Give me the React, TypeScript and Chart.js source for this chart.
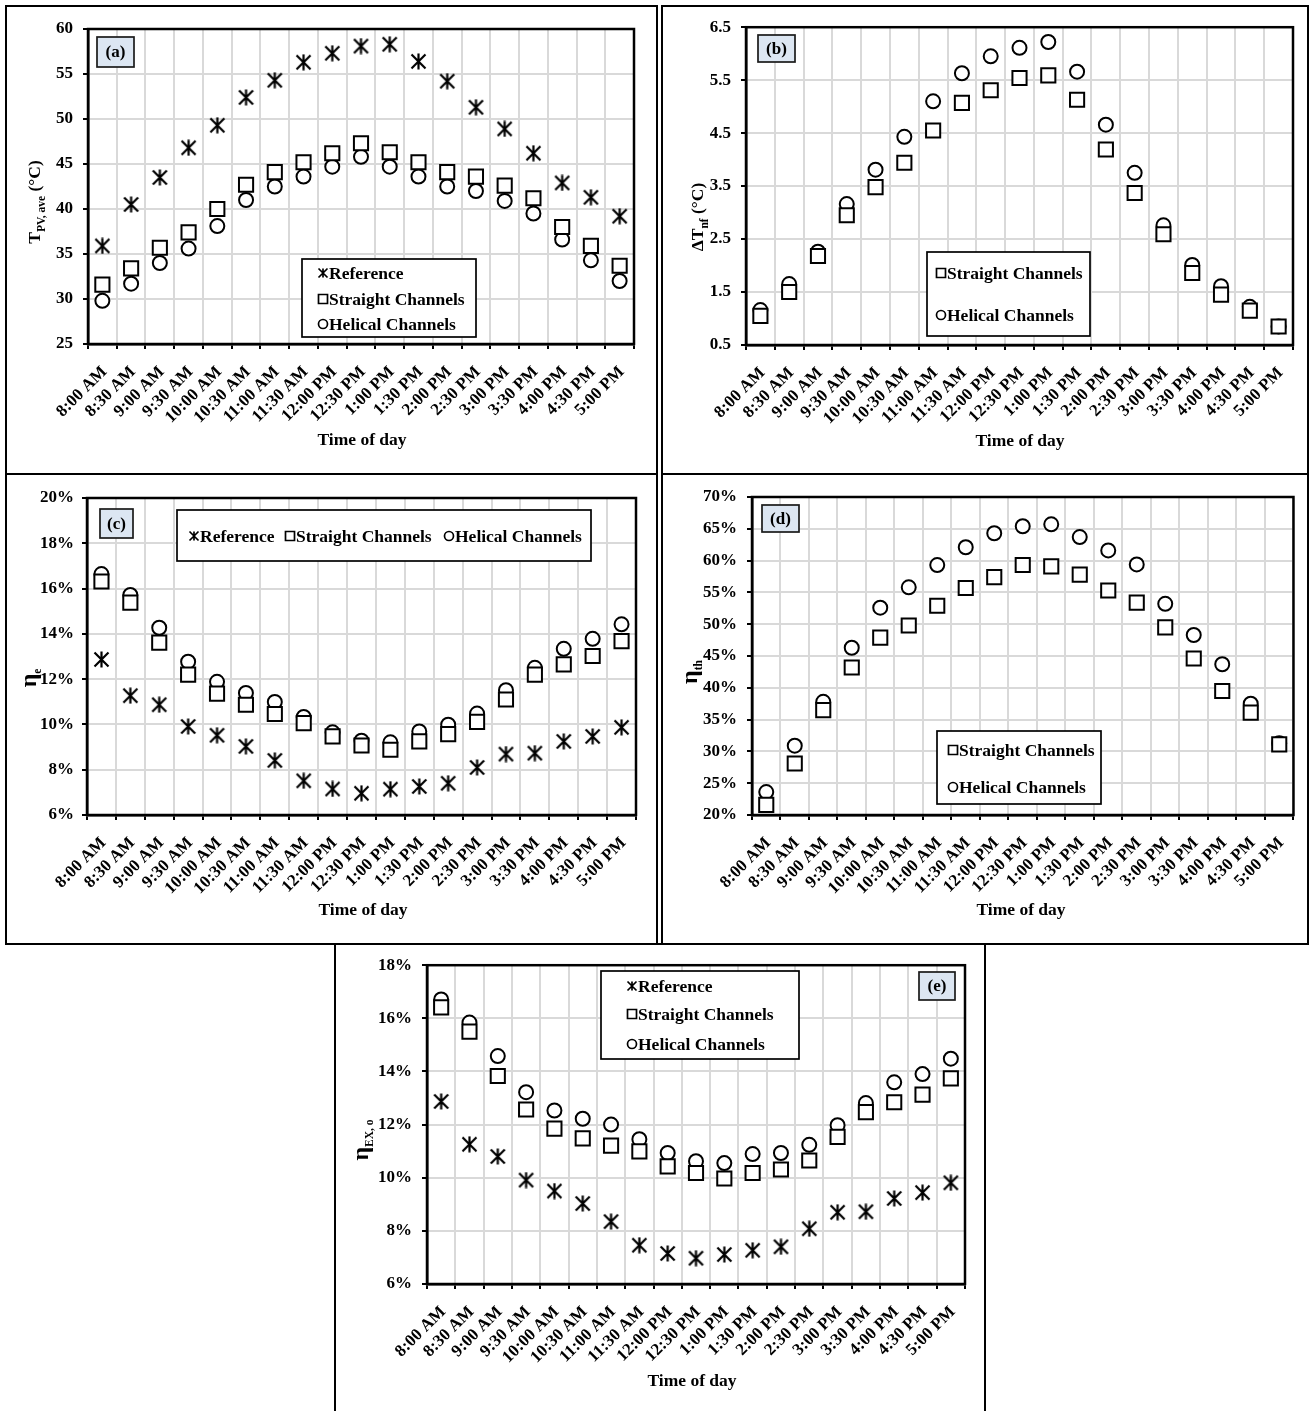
import React, { useEffect, useRef } from 'react';
import { Chart, registerables } from 'chart.js';

Chart.register(...registerables);

const FONT = "'Liberation Serif', 'Times New Roman', serif";

// ---------- DATA ----------
const timeLabels = [
  '8:00 AM', '8:30 AM', '9:00 AM', '9:30 AM', '10:00 AM', '10:30 AM', '11:00 AM', '11:30 AM',
  '12:00 PM', '12:30 PM', '1:00 PM', '1:30 PM', '2:00 PM', '2:30 PM', '3:00 PM', '3:30 PM',
  '4:00 PM', '4:30 PM', '5:00 PM',
];

const seriesNames = ['Reference', 'Straight Channels', 'Helical Channels'];

// (a) average PV temperature (°C)
const tpvReference = [35.9, 40.5, 43.5, 46.8, 49.3, 52.4, 54.3, 56.3, 57.3, 58.1, 58.3, 56.4, 54.2, 51.3, 48.9, 46.2, 42.9, 41.3, 39.2];
const tpvStraight = [31.6, 33.4, 35.7, 37.4, 40.0, 42.7, 44.1, 45.2, 46.2, 47.3, 46.3, 45.2, 44.1, 43.6, 42.6, 41.2, 38.0, 35.9, 33.7];
const tpvHelical = [29.8, 31.7, 34.0, 35.6, 38.1, 41.0, 42.5, 43.6, 44.7, 45.8, 44.7, 43.6, 42.5, 42.0, 40.9, 39.5, 36.6, 34.3, 32.0];

// (b) nanofluid temperature rise (°C)
const dtStraight = [1.05, 1.5, 2.18, 2.95, 3.48, 3.94, 4.55, 5.07, 5.31, 5.54, 5.59, 5.13, 4.19, 3.37, 2.59, 1.86, 1.45, 1.15, 0.85];
const dtHelical = [1.16, 1.65, 2.26, 3.16, 3.81, 4.43, 5.1, 5.63, 5.95, 6.11, 6.22, 5.66, 4.66, 3.75, 2.76, 2.01, 1.61, 1.22, 0.85];

// (c) electrical efficiency (%)
const etaEReference = [12.87, 11.27, 10.87, 9.91, 9.52, 9.03, 8.41, 7.51, 7.15, 6.96, 7.14, 7.26, 7.4, 8.1, 8.69, 8.73, 9.25, 9.47, 9.87];
const etaEStraight = [16.31, 15.38, 13.61, 12.2, 11.36, 10.87, 10.46, 10.06, 9.47, 9.07, 8.88, 9.25, 9.57, 10.11, 11.1, 12.2, 12.65, 13.02, 13.68];
const etaEHelical = [16.64, 15.72, 14.27, 12.77, 11.88, 11.39, 10.99, 10.33, 9.65, 9.28, 9.21, 9.69, 9.99, 10.48, 11.51, 12.5, 13.34, 13.78, 14.42];

// (d) thermal efficiency (%)
const etaThStraight = [21.6, 28.1, 36.5, 43.2, 47.9, 49.8, 52.9, 55.7, 57.4, 59.3, 59.1, 57.8, 55.3, 53.4, 49.5, 44.6, 39.5, 36.1, 31.1];
const etaThHelical = [23.6, 30.9, 37.8, 46.3, 52.6, 55.8, 59.3, 62.1, 64.3, 65.4, 65.7, 63.7, 61.6, 59.4, 53.2, 48.3, 43.7, 37.5, 31.3];

// (e) overall exergy efficiency (%)
const etaExReference = [12.87, 11.26, 10.8, 9.91, 9.5, 9.03, 8.35, 7.46, 7.15, 6.97, 7.11, 7.27, 7.4, 8.08, 8.7, 8.72, 9.22, 9.44, 9.81];
const etaExStraight = [16.41, 15.5, 13.83, 12.57, 11.85, 11.48, 11.21, 10.99, 10.43, 10.18, 9.97, 10.18, 10.31, 10.65, 11.54, 12.47, 12.84, 13.13, 13.74];
const etaExHelical = [16.71, 15.84, 14.58, 13.22, 12.53, 12.22, 12.0, 11.45, 10.93, 10.62, 10.55, 10.89, 10.93, 11.24, 11.98, 12.81, 13.59, 13.9, 14.48];

// y-axis ranges (min, max, step)
const yRangeA = [25, 60, 5];
const yRangeB = [0.5, 6.5, 1];
const yRangeC = [6, 20, 2];
const yRangeD = [20, 70, 5];
const yRangeE = [6, 18, 2];

// ---------- STYLE / LAYOUT ----------
type Marker = 'star' | 'rect' | 'circle';

interface Series { label: string; data: number[]; marker: Marker }
interface PanelSpec {
  id: string;
  box: number[];
  plot: number[];
  range: number[];
  fmt: (v: number) => string;
  yPad: number;
  series: Series[];
  yTitle: { main: string; sub: string; tail: string; cx: number; cy: number; mainSize: number };
  xTitle: { cx: number; cy: number };
  tag: { text: string; box: number[] };
  legend: { box: number[]; items: number[][] };
}

const pct = (v: number) => `${v}%`;

const panels: PanelSpec[] = [
  {
    id: 'a', box: [6, 6, 657, 474], plot: [88, 29, 634, 344], range: yRangeA, fmt: (v) => String(v), yPad: 10,
    series: [
      { label: seriesNames[0], data: tpvReference, marker: 'star' },
      { label: seriesNames[1], data: tpvStraight, marker: 'rect' },
      { label: seriesNames[2], data: tpvHelical, marker: 'circle' },
    ],
    yTitle: { main: 'T', sub: 'PV, ave', tail: ' (°C)', cx: 34, cy: 202, mainSize: 17.5 },
    xTitle: { cx: 362, cy: 440 },
    tag: { text: '(a)', box: [97, 37, 134, 67] },
    legend: { box: [302, 259, 476, 337], items: [[323, 273, 329], [323, 299, 329], [323, 324, 329]] },
  },
  {
    id: 'b', box: [662, 6, 1308, 474], plot: [746, 27, 1293, 345], range: yRangeB, fmt: (v) => v.toFixed(1), yPad: 10,
    series: [
      { label: seriesNames[1], data: dtStraight, marker: 'rect' },
      { label: seriesNames[2], data: dtHelical, marker: 'circle' },
    ],
    yTitle: { main: 'ΔT', sub: 'nf', tail: ' (°C)', cx: 697, cy: 217, mainSize: 17.5 },
    xTitle: { cx: 1020, cy: 441 },
    tag: { text: '(b)', box: [758, 35, 795, 62] },
    legend: { box: [927, 252, 1090, 336], items: [[941, 273, 947], [941, 315, 947]] },
  },
  {
    id: 'c', box: [6, 474, 657, 944], plot: [87, 498, 636, 815], range: yRangeC, fmt: pct, yPad: 8,
    series: [
      { label: seriesNames[0], data: etaEReference, marker: 'star' },
      { label: seriesNames[1], data: etaEStraight, marker: 'rect' },
      { label: seriesNames[2], data: etaEHelical, marker: 'circle' },
    ],
    yTitle: { main: 'η', sub: 'e', tail: '', cx: 30, cy: 678, mainSize: 24 },
    xTitle: { cx: 363, cy: 910 },
    tag: { text: '(c)', box: [100, 509, 133, 538] },
    legend: { box: [177, 510, 591, 561], items: [[194, 536, 200], [290, 536, 296], [449, 536, 455]] },
  },
  {
    id: 'd', box: [662, 474, 1308, 944], plot: [752, 497, 1294, 815], range: yRangeD, fmt: pct, yPad: 10,
    series: [
      { label: seriesNames[1], data: etaThStraight, marker: 'rect' },
      { label: seriesNames[2], data: etaThHelical, marker: 'circle' },
    ],
    yTitle: { main: 'η', sub: 'th', tail: '', cx: 691, cy: 672, mainSize: 24 },
    xTitle: { cx: 1021, cy: 910 },
    tag: { text: '(d)', box: [762, 505, 799, 532] },
    legend: { box: [937, 731, 1101, 804], items: [[953, 750, 959], [953, 787, 959]] },
  },
  {
    id: 'e', box: [335, 944, 985, 1413], plot: [427, 961, 965, 1284], range: yRangeE, fmt: pct, yPad: 10,
    series: [
      { label: seriesNames[0], data: etaExReference, marker: 'star' },
      { label: seriesNames[1], data: etaExStraight, marker: 'rect' },
      { label: seriesNames[2], data: etaExHelical, marker: 'circle' },
    ],
    yTitle: { main: 'η', sub: 'EX, o', tail: '', cx: 362, cy: 1140, mainSize: 24 },
    xTitle: { cx: 692, cy: 1381 },
    tag: { text: '(e)', box: [919, 972, 955, 1000] },
    legend: { box: [601, 971, 799, 1059], items: [[632, 986, 638], [632, 1014, 638], [632, 1044, 638]] },
  },
];

let starImage: HTMLCanvasElement | null = null;
function getStar(): HTMLCanvasElement {
  if (starImage) return starImage;
  const s = 17;
  const c = document.createElement('canvas');
  c.width = s; c.height = s;
  const ctx = c.getContext('2d')!;
  ctx.strokeStyle = '#000';
  ctx.lineWidth = 2.2;
  const m = 1.5, e = s - 1.5, mid = s / 2;
  ctx.beginPath();
  ctx.moveTo(mid, 0.5); ctx.lineTo(mid, s - 0.5);
  ctx.moveTo(m, m); ctx.lineTo(e, e);
  ctx.moveTo(e, m); ctx.lineTo(m, e);
  ctx.stroke();
  starImage = c;
  return c;
}

function drawLegendMarker(ctx: CanvasRenderingContext2D, kind: Marker, x: number, y: number) {
  ctx.save();
  ctx.strokeStyle = '#000';
  ctx.fillStyle = '#fff';
  ctx.lineWidth = 1.7;
  const h = 4.5;
  ctx.beginPath();
  if (kind === 'star') {
    ctx.moveTo(x, y - h); ctx.lineTo(x, y + h);
    ctx.moveTo(x - h, y - h); ctx.lineTo(x + h, y + h);
    ctx.moveTo(x + h, y - h); ctx.lineTo(x - h, y + h);
    ctx.stroke();
  } else if (kind === 'rect') {
    ctx.rect(x - h, y - h, 2 * h, 2 * h);
    ctx.fill(); ctx.stroke();
  } else {
    ctx.arc(x, y, h, 0, Math.PI * 2);
    ctx.fill(); ctx.stroke();
  }
  ctx.restore();
}

function makeDataset(s: Series) {
  const base: any = {
    label: s.label,
    data: s.data,
    showLine: false,
    borderColor: '#000',
    backgroundColor: '#fff',
    pointBorderColor: '#000',
    pointBackgroundColor: '#fff',
    pointBorderWidth: 2,
    clip: false,
  };
  if (s.marker === 'star') return { ...base, pointStyle: getStar(), pointRadius: 8 };
  if (s.marker === 'rect') return { ...base, pointStyle: 'rect', pointRadius: 10 };
  return { ...base, pointStyle: 'circle', pointRadius: 7 };
}

function Panel({ spec }: { spec: PanelSpec }) {
  const ref = useRef<HTMLCanvasElement>(null);
  const [x0, y0, x1, y1] = spec.box;
  const ox = x0 + 1, oy = y0 + 1;
  const W = x1 - x0 - 2, H = y1 - y0 - 2;
  const [L, T, R, B] = spec.plot;

  useEffect(() => {
    const tickFont = { family: FONT, size: 17, weight: 'bold' as const };
    const decor = {
      id: 'decor_' + spec.id,
      beforeDatasetsDraw(chart: any) {
        const { ctx, chartArea: a } = chart;
        ctx.save();
        ctx.strokeStyle = '#000';
        ctx.lineWidth = 2.5;
        ctx.strokeRect(a.left, a.top, a.right - a.left, a.bottom - a.top);
        ctx.restore();
      },
      afterDatasetsDraw(chart: any) {
        const ctx: CanvasRenderingContext2D = chart.ctx;
        ctx.save();
        // legend
        const [lx0, ly0, lx1, ly1] = spec.legend.box;
        ctx.fillStyle = '#fff';
        ctx.fillRect(lx0 - ox, ly0 - oy, lx1 - lx0, ly1 - ly0);
        ctx.strokeStyle = '#000';
        ctx.lineWidth = 1.7;
        ctx.strokeRect(lx0 - ox, ly0 - oy, lx1 - lx0, ly1 - ly0);
        ctx.font = `bold 17.5px ${FONT}`;
        ctx.textBaseline = 'middle';
        ctx.textAlign = 'left';
        spec.series.forEach((s, i) => {
          const [mx, my, tx] = spec.legend.items[i];
          drawLegendMarker(ctx, s.marker, mx - ox, my - oy);
          ctx.fillStyle = '#000';
          ctx.fillText(chart.data.datasets[i].label, tx - ox, my - oy + 1);
        });
        // tag
        const [tx0, ty0, tx1, ty1] = spec.tag.box;
        ctx.fillStyle = '#dce6f2';
        ctx.fillRect(tx0 - ox, ty0 - oy, tx1 - tx0, ty1 - ty0);
        ctx.strokeStyle = '#1a1a1a';
        ctx.lineWidth = 1.7;
        ctx.strokeRect(tx0 - ox, ty0 - oy, tx1 - tx0, ty1 - ty0);
        ctx.fillStyle = '#000';
        ctx.textAlign = 'center';
        ctx.font = `bold 17px ${FONT}`;
        ctx.fillText(spec.tag.text, (tx0 + tx1) / 2 - ox, (ty0 + ty1) / 2 - oy + 1);
        // x title
        ctx.font = `bold 17.5px ${FONT}`;
        ctx.fillText('Time of day', spec.xTitle.cx - ox, spec.xTitle.cy - oy);
        // y title
        const t = spec.yTitle;
        ctx.translate(t.cx - ox, t.cy - oy);
        ctx.rotate(-Math.PI / 2);
        const fMain = `bold ${t.mainSize}px ${FONT}`;
        const fSub = `bold 11.5px ${FONT}`;
        const fTail = `bold 17.5px ${FONT}`;
        ctx.font = fMain; const wm = ctx.measureText(t.main).width;
        ctx.font = fSub; const ws = ctx.measureText(t.sub).width;
        ctx.font = fTail; const wt = t.tail ? ctx.measureText(t.tail).width : 0;
        let x = -(wm + ws + wt) / 2;
        const base = 6;
        ctx.textAlign = 'left';
        ctx.textBaseline = 'alphabetic';
        ctx.font = fMain; ctx.fillText(t.main, x, base); x += wm;
        ctx.font = fSub; ctx.fillText(t.sub, x, base + 5); x += ws;
        if (t.tail) { ctx.font = fTail; ctx.fillText(t.tail, x, base); }
        ctx.restore();
      },
    };

    const [min, max, step] = spec.range;
    const chart = new Chart(ref.current!, {
      type: 'line',
      data: { labels: timeLabels, datasets: spec.series.map(makeDataset) },
      options: {
        animation: false,
        responsive: false,
        devicePixelRatio: 1,
        layout: { padding: { left: 0, top: T - oy, right: W - (R - ox), bottom: 0 } },
        plugins: { legend: { display: false }, tooltip: { enabled: false }, title: { display: false } },
        scales: {
          x: {
            type: 'category',
            offset: true,
            grid: { offset: true, color: '#d9d9d9', lineWidth: 2, tickColor: '#000', tickWidth: 2, tickLength: 5, drawTicks: true },
            border: { display: true, color: '#000', width: 2.5 },
            ticks: { autoSkip: false, minRotation: 45, maxRotation: 45, padding: 13, labelOffset: 2, color: '#000', font: tickFont },
            afterFit: (s: any) => { s.height = H - (B - oy); },
          },
          y: {
            type: 'linear',
            min, max,
            grid: { color: '#d9d9d9', lineWidth: 2, tickColor: '#000', tickWidth: 2, tickLength: 5, drawTicks: true },
            border: { display: true, color: '#000', width: 2.5 },
            ticks: { stepSize: step, padding: spec.yPad, color: '#000', font: tickFont, callback: (v: any) => spec.fmt(Number(v)) },
            afterFit: (s: any) => { s.width = L - ox; },
          },
        },
      } as any,
      plugins: [decor],
    });
    return () => chart.destroy();
  }, []);

  return (
    <div style={{ position: 'absolute', left: x0 - 1, top: y0 - 1, width: x1 - x0 + 2, height: y1 - y0 + 2, border: '2px solid #000', boxSizing: 'border-box' }}>
      <canvas ref={ref} width={W} height={H} style={{ position: 'absolute', left: 0, top: 0, width: W, height: H }} />
    </div>
  );
}

export default function App() {
  return (
    <div style={{ position: 'absolute', left: 0, top: 0, width: 1310, height: 1411, background: '#fff', overflow: 'hidden' }}>
      {panels.map((p) => <Panel key={p.id} spec={p} />)}
    </div>
  );
}
